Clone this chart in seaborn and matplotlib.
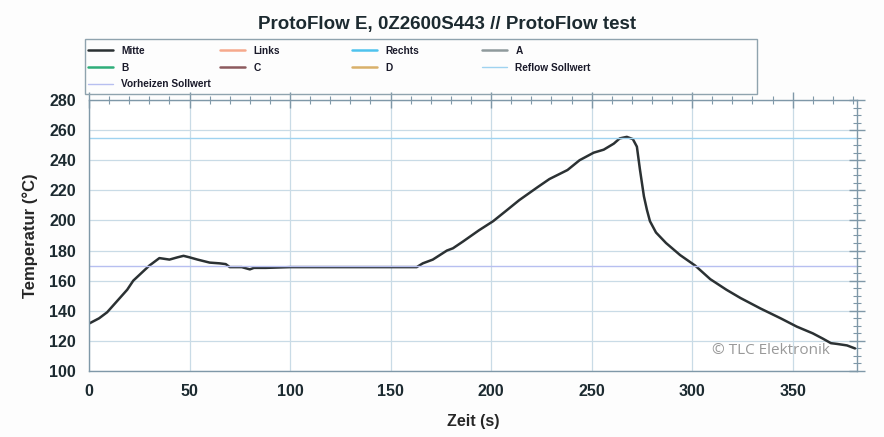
"""Reflow profile plot: ProtoFlow E temperature over time."""

import matplotlib
matplotlib.use("Agg")

import matplotlib.pyplot as plt
import pandas as pd
import seaborn as sns
from matplotlib.patches import Rectangle
from matplotlib.ticker import MultipleLocator

# --- data ---
zeit_s = [0, 5, 9, 15, 19, 22, 26, 30, 35, 40, 44, 47, 50, 54, 60, 65, 68, 70,
          76, 80, 82, 88, 100, 120, 140, 163, 166, 171, 178, 181, 186, 194, 201,
          208, 214, 223, 229, 238, 244, 251, 256, 261, 264, 267.5, 270.5, 272.5,
          274, 276, 277.5, 279, 282, 287, 294, 301.5, 309, 317, 324, 334, 344,
          352, 360, 365, 369, 372, 377, 381]
mitte_c = [131.5, 135, 139, 148, 154, 160, 165, 170, 175, 174, 175.5, 176.5,
           175.5, 174, 172, 171.5, 171, 169, 169, 167.5, 168.5, 168.5, 169, 169,
           169, 169, 171.5, 174, 180, 181.5, 186, 193.5, 199.5, 207, 213.5, 222,
           227.5, 233.5, 240, 245, 247, 251, 254.5, 255.5, 254, 249, 234, 216,
           207, 199.5, 192, 185, 177, 170, 161, 154, 148.5, 141.5, 135, 129.5,
           125, 121.5, 118.5, 118, 117, 115]

reflow_sollwert = 255
vorheizen_sollwert = 170

# channels without data in this run (legend only)
leere_kanaele = ["Links", "Rechts", "A", "B", "C", "D"]
kanal_farben = {
    "Links": "#f6a98c",
    "Rechts": "#4fc3ee",
    "A": "#8f9a9c",
    "B": "#2fae7a",
    "C": "#8c5a5e",
    "D": "#d9b06a",
}

# legend layout: one column of entries per list
legend_spalten = [["Mitte", "B", "Vorheizen Sollwert"], ["Links", "C"],
                  ["Rechts", "D"], ["A", "Reflow Sollwert"]]

df = pd.DataFrame({"Zeit": zeit_s, "Temperatur": mitte_c})

sns.set_style("white")
plt.rcParams["font.family"] = ["Liberation Sans", "DejaVu Sans"]

fig = plt.figure(figsize=(8.84, 4.37), dpi=100)
fig.patch.set_facecolor("#fdfdfd")
ax = fig.add_axes([0.1007, 0.151, 0.8688, 0.6202])

sns.lineplot(data=df, x="Zeit", y="Temperatur", ax=ax, color="#2b3133",
             linewidth=1.8, legend=False)

lines = {"Mitte": ax.get_lines()[0]}
for name in leere_kanaele:
    (ln,) = ax.plot([], [], color=kanal_farben[name], linewidth=1.8)
    lines[name] = ln

lines["Reflow Sollwert"] = ax.axhline(reflow_sollwert, color="#9fd3f0", linewidth=1.0)
lines["Vorheizen Sollwert"] = ax.axhline(vorheizen_sollwert, color="#b7bff0", linewidth=1.0)

ax.set_xlim(0, 382)
ax.set_ylim(100, 280)
ax.xaxis.set_major_locator(MultipleLocator(50))
ax.xaxis.set_minor_locator(MultipleLocator(10))
ax.yaxis.set_major_locator(MultipleLocator(20))
ax.yaxis.set_minor_locator(MultipleLocator(5))

ax.grid(True, which="major", color="#c9dbe6", linewidth=0.9)
ax.set_axisbelow(True)
for sp in ax.spines.values():
    sp.set_color("#7f98a8")
    sp.set_linewidth(1.0)
ax.tick_params(which="both", direction="inout", colors="#7f98a8",
               top=True, right=True, labelcolor="#1c2a30")
ax.tick_params(which="major", length=11, width=1.0, labelsize=11.5, pad=4)
ax.tick_params(which="minor", length=6, width=0.8)
for lab in ax.get_xticklabels() + ax.get_yticklabels():
    lab.set_fontweight("bold")

ax.set_xlabel("Zeit (s)", fontsize=11.5, fontweight="bold", labelpad=11)
ax.set_ylabel("Temperatur (°C)", fontsize=12, fontweight="bold", labelpad=8)

fig.suptitle("ProtoFlow E, 0Z2600S443 // ProtoFlow test", x=0.506, y=0.964,
             fontsize=13.5, fontweight="bold", color="#1c2a30")

# legend box above the axes, columns on a fixed grid
fig.add_artist(Rectangle((85 / 884, 1 - 94 / 437), 672 / 884, 55 / 437,
                         transform=fig.transFigure, fill=False,
                         edgecolor="#8fa3ae", linewidth=1.0))
spalten_x = [88 / 884, 220 / 884, 352 / 884, 482 / 884]
for x0, spalte in zip(spalten_x, legend_spalten):
    leg = fig.legend([lines[n] for n in spalte], spalte, loc="upper left",
                     bbox_to_anchor=(x0, 1 - 46 / 437), frameon=False,
                     fontsize=7.3, handlelength=2.5, handletextpad=0.8,
                     borderpad=0, borderaxespad=0, labelspacing=0.66)
    for t in leg.get_texts():
        t.set_fontweight("bold")
        t.set_color("#1a1a2a")

ax.text(0.811, 0.075, "© TLC Elektronik", transform=ax.transAxes,
        ha="left", va="center", fontsize=11, color="#999999",
        family=["Open Sans", "DejaVu Sans"])

fig.savefig("out.png", dpi=100)
